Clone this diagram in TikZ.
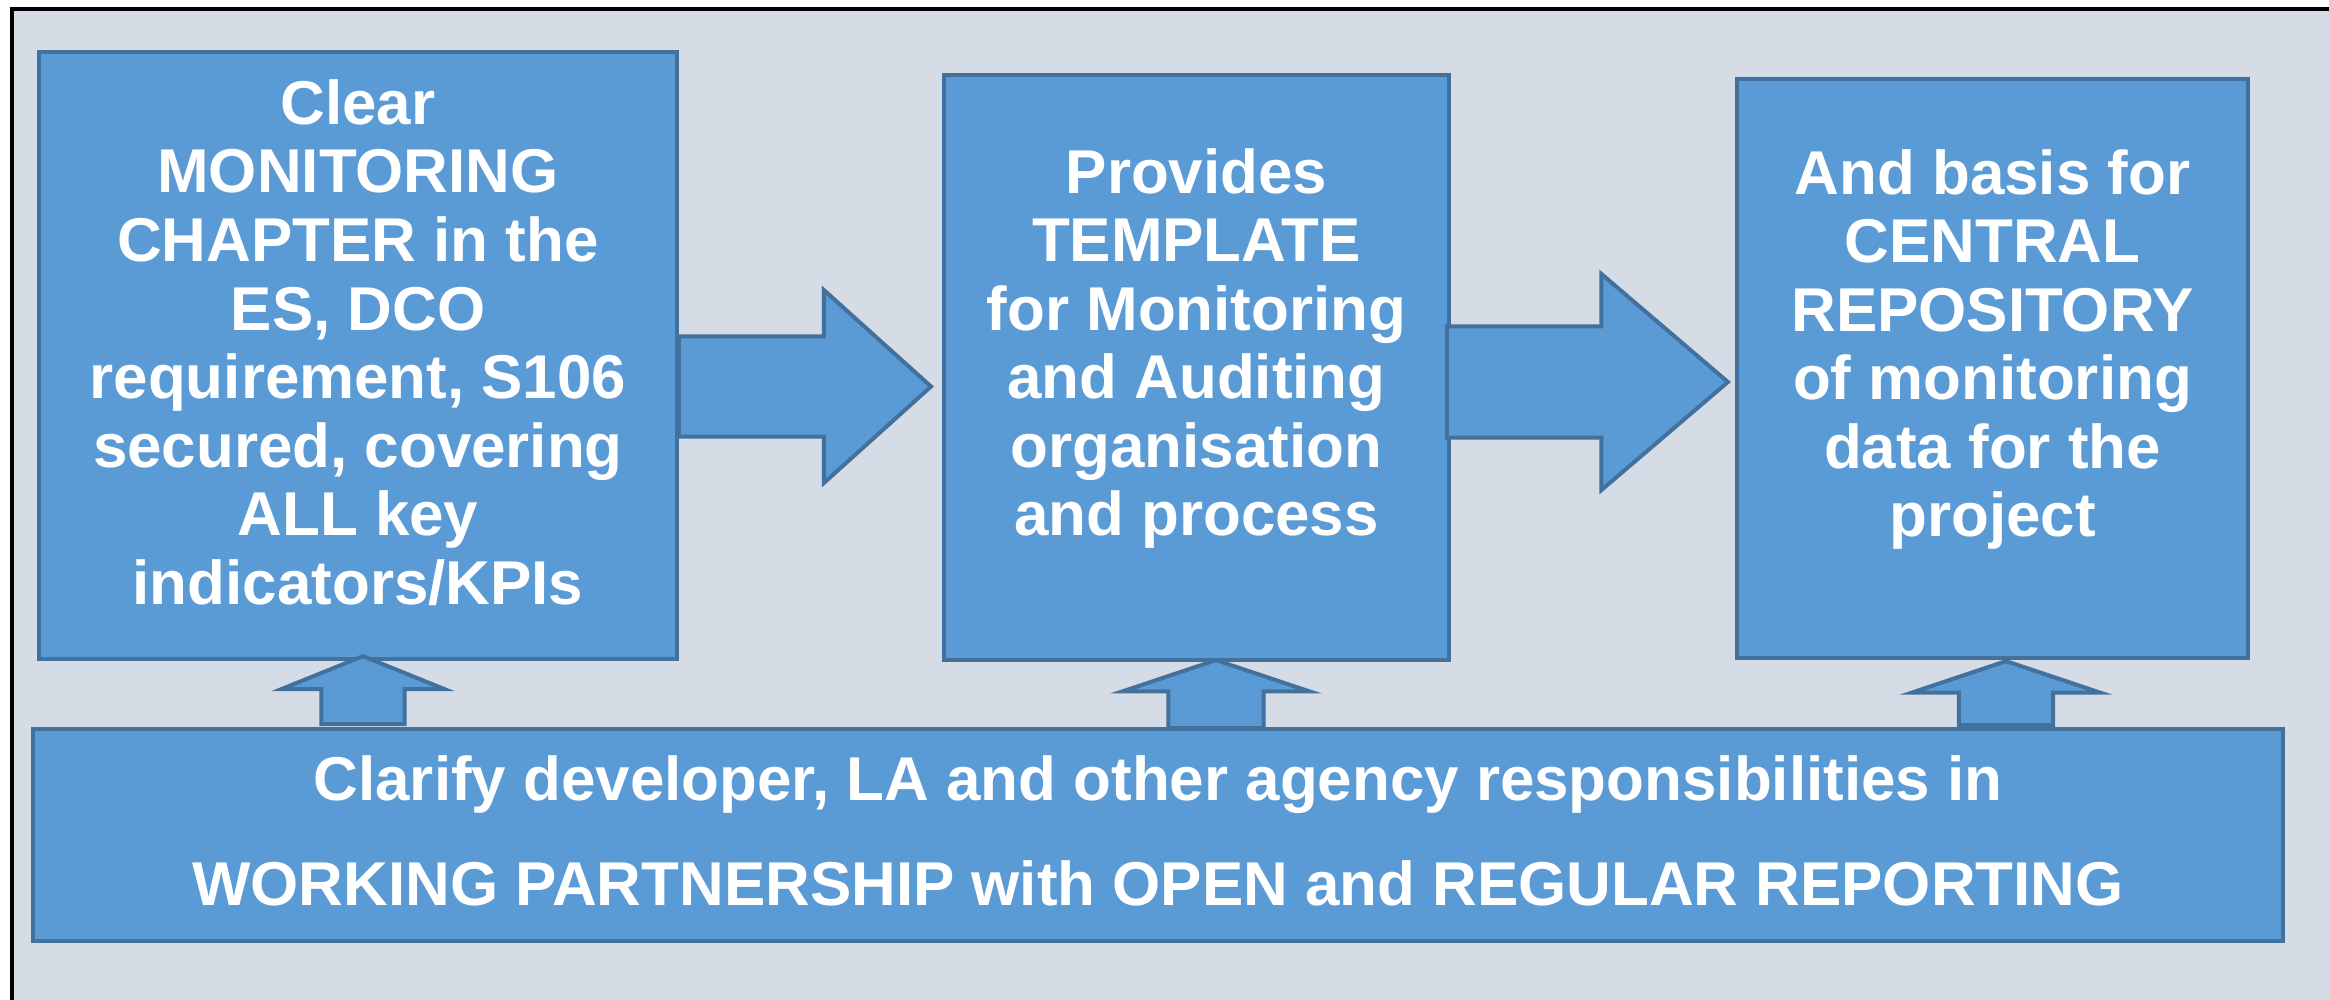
\documentclass[tikz,border=0pt]{standalone}
\usepackage{fontspec}
\setmainfont{Liberation Sans}
\usetikzlibrary{shapes.arrows}

\definecolor{boxfill}{HTML}{5B9BD5}
\definecolor{boxline}{HTML}{41719C}
\definecolor{panel}{HTML}{D6DCE5}

\tikzset{
  box/.style={draw=boxline, fill=boxfill, line width=0.04cm, inner sep=0pt},
  boxtext/.style={text=white, font=\bfseries\fontsize{17.6}{19.5}\selectfont, align=center, inner sep=0pt},
  blockarrow/.style={single arrow, draw=boxline, fill=boxfill, line width=0.04cm,
    minimum width=0pt, miter limit=20, anchor=tip},
  uparrow/.style={blockarrow, shape border rotate=90, inner ysep=0pt},
}

\begin{document}
\begin{tikzpicture}[x=0.01cm, y=-0.01cm]
\clip (0,0) rectangle (2329,1000);
\fill[white] (0,0) rectangle (2329,1000);
\draw[fill=panel, line width=0.03cm] (12,9) rectangle (2400,1100);

% the three stages and the base
\node[box, minimum width=6.38cm, minimum height=6.07cm] (b1) at (358,355.5) {};
\node[box, minimum width=5.05cm, minimum height=5.85cm] (b2) at (1196.5,367.5) {};
\node[box, minimum width=5.11cm, minimum height=5.79cm] (b3) at (1992.5,368.5) {};
\node[box, minimum width=22.48cm, minimum height=2.12cm] (base) at (1158,835) {};

\node[boxtext] (t1) at ([yshift=0.13cm]b1.center) {Clear\\MONITORING\\CHAPTER in the\\ES, DCO\\requirement, S106\\secured, covering\\ALL key\\indicators/KPIs};
\node[boxtext] (t2) at ([yshift=0.19cm]b2.center) {Provides\\TEMPLATE\\for Monitoring\\and Auditing\\organisation\\and process};
\node[boxtext] (t3) at ([yshift=0.19cm]b3.center) {And basis for\\CENTRAL\\REPOSITORY\\of monitoring\\data for the\\project};
\node[boxtext] (t4) at ([yshift=0.04cm]base.center) {Clarify developer, LA and other agency responsibilities in\\[10.4pt]WORKING PARTNERSHIP with OPEN and REGULAR REPORTING};

% block arrows, placed by their tips
\node[blockarrow, minimum height=2.52cm, inner xsep=0pt, inner ysep=0.48cm, single arrow head extend=0.465cm,
  single arrow tip angle=84] (a1) at (934,386.5) {};
\node[blockarrow, minimum height=2.81cm, inner xsep=0pt, inner ysep=0.535cm, single arrow head extend=0.525cm,
  single arrow tip angle=81] (a2) at (1731,382) {};
\node[uparrow, minimum height=0.68cm, inner xsep=0.395cm,
  single arrow head extend=0.40cm, single arrow tip angle=136] (u1) at (363,654) {};
\node[uparrow, minimum height=0.68cm, inner xsep=0.455cm,
  single arrow head extend=0.46cm, single arrow tip angle=143] (u2) at (1216,658) {};
\node[uparrow, minimum height=0.64cm, inner xsep=0.45cm,
  single arrow head extend=0.47cm, single arrow tip angle=143] (u3) at (2006,659) {};

\end{tikzpicture}
\end{document}
